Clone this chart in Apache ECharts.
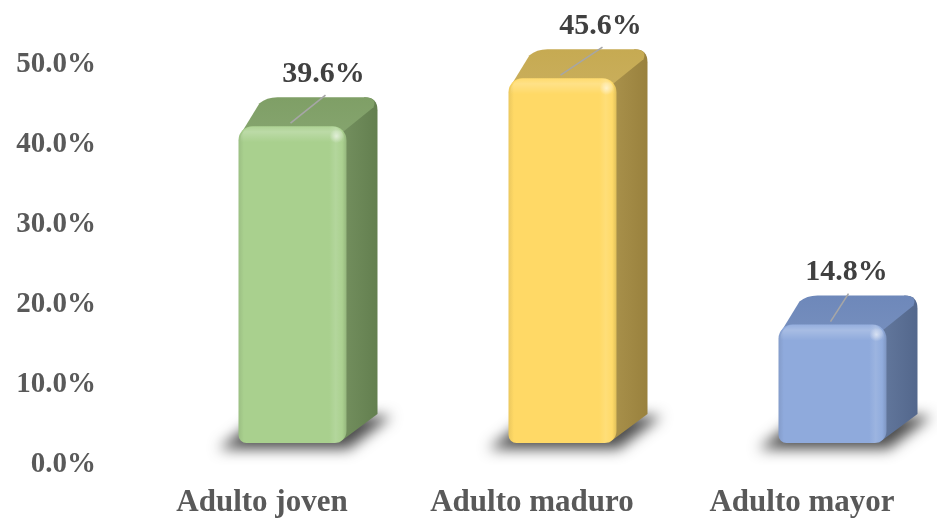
<!DOCTYPE html>
<html>
<head>
<meta charset="utf-8">
<script src="https://cdn.jsdelivr.net/npm/echarts@6/dist/echarts.min.js"></script>
<style>
  html, body { margin: 0; padding: 0; background: #ffffff; }
  #chart { width: 937px; height: 520px; }
</style>
</head>
<body>
<div id="chart"></div>
<script>
// Age groups and their share of the sample (%)
const categories = ['Adulto joven', 'Adulto maduro', 'Adulto mayor'];
const shares = [39.6, 45.6, 14.8];
const yTicks = [0, 10, 20, 30, 40, 50];

// Face colours of each column: front, right side, top
const faceColors = [
  { front: '#A9D08E', side: '#6C8A56', top: '#7F9F66' },
  { front: '#FFD966', side: '#A68C42', top: '#C6AA52' },
  { front: '#8FAADC', side: '#5A7098', top: '#6E88BA' }
];
// Horizontal lean of each value label's leader line (px)
const labelLean = [33, 40, 16];

const SERIF = '"Liberation Serif", "Times New Roman", serif';
const BAR_W = 108;      // front face width
const DEPTH_X = 31;     // perspective depth, to the right
const DEPTH_Y = -29;    // perspective depth, upwards
const FRONT_SHIFT = 30.5;
const FAR = 3000;       // shadow caster is drawn off-canvas, only its shadow lands

const chart = echarts.init(document.getElementById('chart'), null, { renderer: 'canvas' });

function shade(hex, k) {
  const n = parseInt(hex.slice(1), 16);
  let r = (n >> 16) & 255, g = (n >> 8) & 255, b = n & 255;
  const f = c => Math.max(0, Math.min(255, Math.round(k >= 0 ? c + (255 - c) * k : c * (1 + k))));
  return 'rgb(' + f(r) + ',' + f(g) + ',' + f(b) + ')';
}

function renderColumn(params, api) {
  const i = api.value(0);
  const v = api.value(1);
  const topPt = api.coord([i, v]);
  const basePt = api.coord([i, 0]);
  const cx = topPt[0] + FRONT_SHIFT;
  const L = cx - BAR_W / 2, R = cx + BAR_W / 2;
  const T = topPt[1], B = basePt[1];
  const dx = DEPTH_X, dy = DEPTH_Y;
  const c = faceColors[i];
  const lean = labelLean[i];

  const sidePath =
    'M' + (R - 8) + ' ' + T +
    ' L' + (R + dx - 13) + ' ' + (T + dy) +
    ' Q' + (R + dx) + ' ' + (T + dy) + ' ' + (R + dx) + ' ' + (T + dy + 13) +
    ' L' + (R + dx) + ' ' + (B + dy) +
    ' L' + (R - 8) + ' ' + B + ' Z';

  const topPath =
    'M' + (L + 2) + ' ' + (T + 8) +
    ' L' + (L + dx - 10) + ' ' + (T + dy + 6) +
    ' Q' + (L + dx - 3) + ' ' + (T + dy) + ' ' + (L + dx + 8) + ' ' + (T + dy) +
    ' L' + (R + dx - 13) + ' ' + (T + dy) +
    ' Q' + (R + dx) + ' ' + (T + dy) + ' ' + (R + dx - 4) + ' ' + (T + dy + 10) +
    ' L' + (R - 4) + ' ' + (T + 6) + ' Z';

  return {
    type: 'group',
    children: [
      // soft floor shadow around the base, heavier to the lower left
      {
        type: 'polygon',
        shape: {
          points: [
            [L - 20 + FAR, B + 6], [R + 2 + FAR, B + 6],
            [R + dx + 14 + FAR, B + dy + 2], [L + dx - 8 + FAR, B + dy + 2]
          ]
        },
        style: {
          fill: '#000',
          shadowBlur: 14,
          shadowColor: 'rgba(0,0,0,0.7)',
          shadowOffsetX: -FAR,
          shadowOffsetY: 0
        }
      },
      {
        type: 'path',
        shape: { pathData: sidePath },
        style: {
          fill: new echarts.graphic.LinearGradient(0, 0, 1, 0, [
            { offset: 0, color: shade(c.side, 0.06) },
            { offset: 1, color: shade(c.side, -0.08) }
          ])
        }
      },
      {
        type: 'path',
        shape: { pathData: topPath },
        style: {
          fill: new echarts.graphic.LinearGradient(0, 1, 0, 0, [
            { offset: 0, color: shade(c.top, 0.05) },
            { offset: 1, color: shade(c.top, 0.0) }
          ])
        }
      },
      {
        type: 'rect',
        shape: { x: L, y: T, width: BAR_W, height: B - T, r: [14, 14, 12, 8] },
        style: {
          fill: new echarts.graphic.LinearGradient(0, 0, 1, 0, [
            { offset: 0, color: shade(c.front, -0.08) },
            { offset: 0.05, color: c.front },
            { offset: 0.84, color: c.front },
            { offset: 0.9, color: shade(c.front, 0.12) },
            { offset: 0.96, color: shade(c.front, 0.02) },
            { offset: 1, color: shade(c.front, -0.12) }
          ])
        }
      },
      // rounded top bevel of the front face
      {
        type: 'rect',
        shape: { x: L + 2, y: T, width: BAR_W - 4, height: 16, r: [14, 14, 0, 0] },
        style: {
          fill: new echarts.graphic.LinearGradient(0, 0, 0, 1, [
            { offset: 0, color: 'rgba(255,255,255,0.05)' },
            { offset: 0.35, color: 'rgba(255,255,255,0.22)' },
            { offset: 1, color: 'rgba(255,255,255,0)' }
          ])
        }
      },
      {
        type: 'circle',
        shape: { cx: R - 10, cy: T + 10, r: 7 },
        style: {
          fill: new echarts.graphic.RadialGradient(0.5, 0.5, 0.5, [
            { offset: 0, color: 'rgba(255,255,255,0.55)' },
            { offset: 1, color: 'rgba(255,255,255,0)' }
          ])
        }
      },
      // leader line and value label
      {
        type: 'line',
        shape: { x1: cx - 2, y1: T - 3, x2: cx + lean, y2: T - 31 },
        style: { stroke: '#A6A6A6', lineWidth: 1.6 }
      },
      {
        type: 'text',
        style: {
          x: cx + lean - 2,
          y: T - 52,
          text: v.toFixed(1) + '%',
          font: 'bold 30px ' + SERIF,
          fill: '#404040',
          align: 'center',
          verticalAlign: 'middle'
        }
      }
    ]
  };
}

const option = {
  backgroundColor: '#ffffff',
  animation: false,
  grid: [
    { left: 127, right: -11, top: 43, bottom: 77 },
    { left: 127, right: -11, top: 64.5, bottom: 55.5 }
  ],
  xAxis: [
    { gridIndex: 0, type: 'category', data: categories, show: false },
    {
      gridIndex: 1, type: 'category', data: categories,
      axisLine: { show: false }, axisTick: { show: false },
      axisLabel: {
        margin: 23,
        color: '#595959',
        fontFamily: SERIF,
        fontWeight: 'bold',
        fontSize: 31
      }
    }
  ],
  yAxis: [
    { gridIndex: 0, type: 'value', min: 0, max: 50, interval: 10, show: false },
    {
      gridIndex: 1, type: 'value',
      min: yTicks[0], max: yTicks[yTicks.length - 1], interval: yTicks[1] - yTicks[0],
      axisLine: { show: false }, axisTick: { show: false }, splitLine: { show: false },
      axisLabel: {
        margin: 31,
        color: '#595959',
        fontFamily: SERIF,
        fontWeight: 'bold',
        fontSize: 29,
        formatter: val => val.toFixed(1) + '%'
      }
    }
  ],
  series: [
    {
      type: 'custom',
      xAxisIndex: 0,
      yAxisIndex: 0,
      clip: false,
      renderItem: renderColumn,
      data: shares.map((v, i) => [i, v])
    }
  ]
};

chart.setOption(option);
</script>
</body>
</html>
